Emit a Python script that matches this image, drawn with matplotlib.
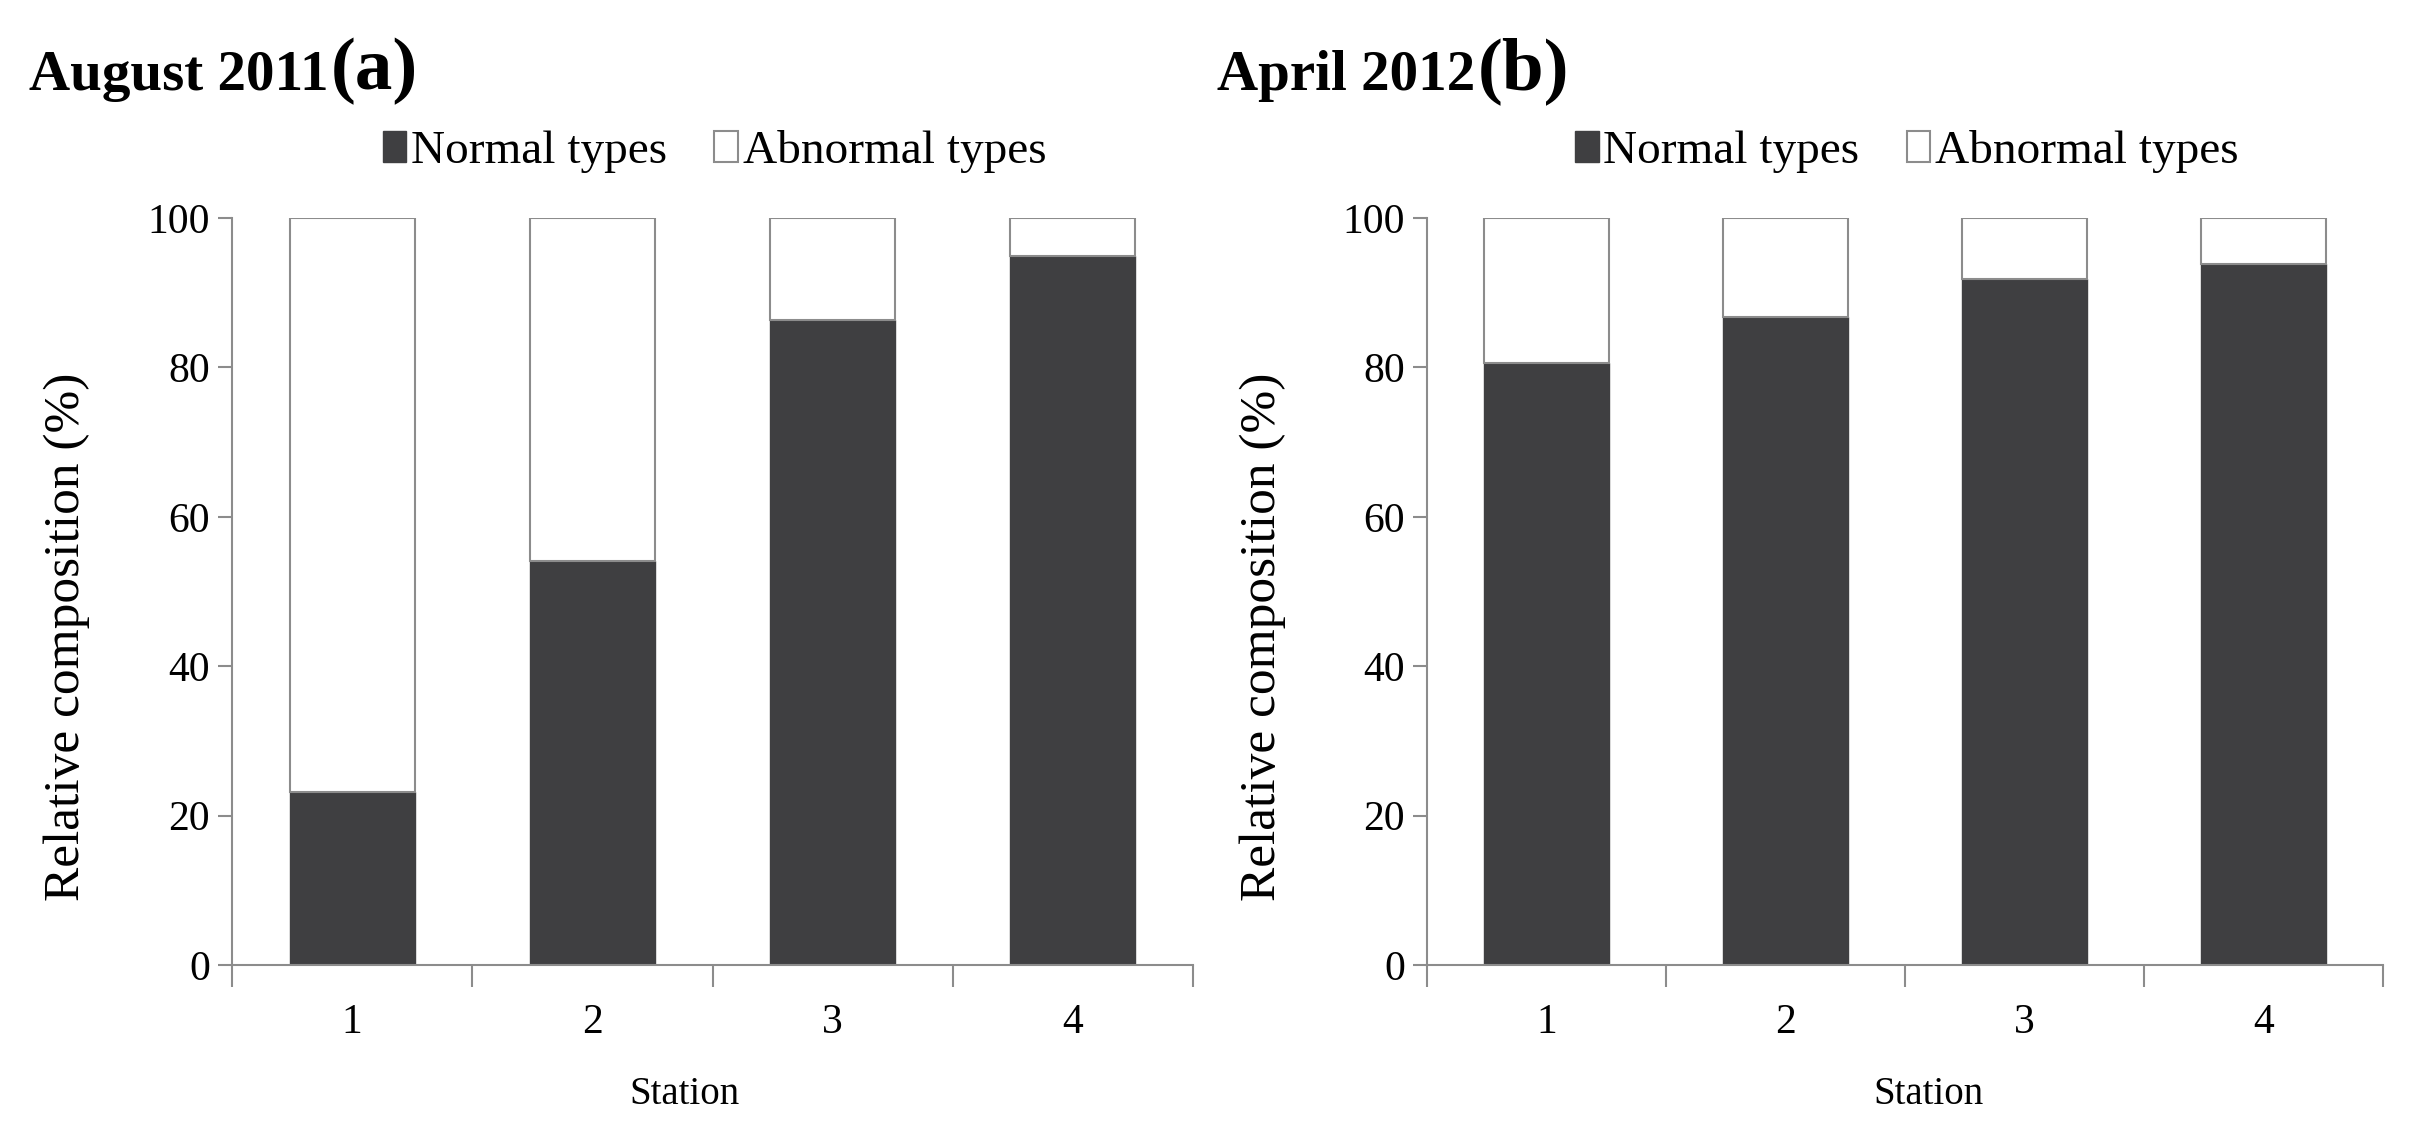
import matplotlib
matplotlib.use("Agg")
import matplotlib.pyplot as plt
from matplotlib.patches import Patch
from matplotlib.ticker import FixedLocator

stations = ["1", "2", "3", "4"]
normal_aug2011 = [23.1, 54.1, 86.3, 94.9]
normal_apr2012 = [80.6, 86.8, 91.9, 93.8]
abnormal_aug2011 = [100 - v for v in normal_aug2011]
abnormal_apr2012 = [100 - v for v in normal_apr2012]
yticks = [0, 20, 40, 60, 80, 100]

plt.rcParams['font.family'] = ['Liberation Serif', 'DejaVu Serif']

DARK = "#3f3f41"
EDGE = "#8c8c8c"
AX = "#8c8c8c"

fig = plt.figure(figsize=(24.22, 11.48), dpi=100)
axes = [fig.add_axes([0.0958, 0.1594, 0.3968, 0.6507]),
        fig.add_axes([0.5892, 0.1594, 0.3947, 0.6507])]

panels = [(axes[0], normal_aug2011, abnormal_aug2011, "August 2011", "(a)", 0.012, 0.471),
          (axes[1], normal_apr2012, abnormal_apr2012, "April 2012", "(b)", 0.5025, 0.525)]

for ax, normal, abnormal, title, tag, tx, sx in panels:
    x = list(range(1, len(stations) + 1))
    ax.bar(x, normal, width=0.52, color=DARK, edgecolor=DARK, linewidth=1.0)
    ax.bar(x, abnormal, bottom=normal, width=0.52, color="white", edgecolor=EDGE, linewidth=1.5)
    ax.set_xlim(0.5, 4.5)
    ax.set_ylim(0, 100)
    for s in ["top", "right"]:
        ax.spines[s].set_visible(False)
    for s in ["left", "bottom"]:
        ax.spines[s].set_color(AX)
        ax.spines[s].set_linewidth(1.5)
    ax.set_xticks(x)
    ax.set_xticklabels(stations)
    ax.xaxis.set_minor_locator(FixedLocator([0.5, 1.5, 2.5, 3.5, 4.5]))
    ax.tick_params(axis="x", which="major", length=0, pad=28, labelsize=30, colors="black")
    ax.tick_params(axis="x", which="minor", length=16, width=1.5, color=AX, direction="out")
    ax.set_yticks(yticks)
    ax.tick_params(axis="y", which="major", length=10, width=1.5, color=AX, direction="out",
                   labelsize=30, pad=6, labelcolor="black")
    ax.set_xlabel("Station", fontsize=28)
    ax.xaxis.set_label_coords(sx, -0.148)
    ax.set_ylabel("Relative composition (%)", fontsize=37)
    ax.yaxis.set_label_coords(-0.148, 0.44)
    handles = [Patch(facecolor=DARK, edgecolor=DARK), Patch(facecolor="white", edgecolor=EDGE, linewidth=1.5)]
    ax.legend(handles, ["Normal types", "Abnormal types"], ncol=2, frameon=False,
              loc="center", bbox_to_anchor=(0.502, 1.089), fontsize=34,
              handlelength=0.5, handleheight=0.65, handletextpad=0.1, columnspacing=1.0,
              borderaxespad=0, borderpad=0)
    t = fig.text(tx, 0.922, title, fontsize=41, fontweight="bold", va="baseline", ha="left")
    fig.canvas.draw()
    bb = t.get_window_extent().transformed(fig.transFigure.inverted())
    fig.text(bb.x1 + 0.001, 0.922, tag, fontsize=54, fontweight="bold", va="baseline", ha="left")

fig.savefig("out.png", dpi=100)
